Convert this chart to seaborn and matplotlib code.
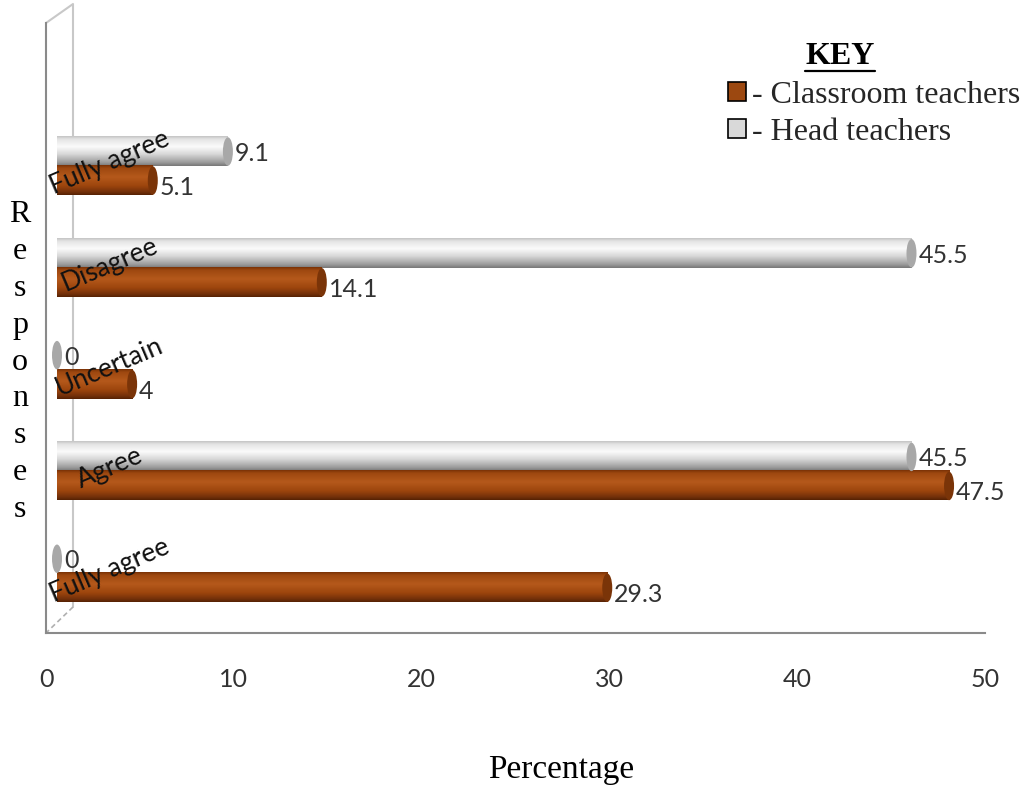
import numpy as np
import pandas as pd
import matplotlib
matplotlib.use("Agg")
import matplotlib.pyplot as plt
import matplotlib.transforms as mtransforms
from matplotlib.patches import Ellipse, Patch
from matplotlib.lines import Line2D
from matplotlib.colors import to_rgb
import seaborn as sns

# Responses, listed from the top of the chart downwards
responses = ["Fully agree", "Disagree", "Uncertain", "Agree", "Fully agree"]
classroom_teachers = [5.1, 14.1, 4, 47.5, 29.3]
head_teachers = [9.1, 45.5, 0, 45.5, 0]
groups = ["Head teachers", "Classroom teachers"]
x_ticks = [0, 10, 20, 30, 40, 50]

rows = []
for i, (h, c) in enumerate(zip(head_teachers, classroom_teachers)):
    rows.append({"slot": i, "group": groups[0], "pct": h})
    rows.append({"slot": i, "group": groups[1], "pct": c})
df = pd.DataFrame(rows)

sns.set_style("white")
plt.rcParams["font.family"] = ["Lato", "DejaVu Sans"]

BROWN = "#9C4810"
GREY = "#D9D9D9"
palette = {groups[0]: GREY, groups[1]: BROWN}

W, H, DPI = 1026, 786, 100
fig = plt.figure(figsize=(W / DPI, H / DPI), dpi=DPI)
# plot frame in pixels: x 46..985, y 23..633 (from top)
L, R, T, B = 46, 985, 23, 633
ax = fig.add_axes([L / W, 1 - B / H, (R - L) / W, (B - T) / H])

sns.barplot(data=df, x="pct", y="slot", hue="group", hue_order=groups,
            orient="y", width=0.57, palette=palette, saturation=1,
            legend=False, ax=ax)

ax.set_xlim(0, 50)
ax.set_ylim(4.587, -1.405)

# depth shift of the cylinders away from the front wall
depth = mtransforms.ScaledTranslation(11 / DPI, 0, fig.dpi_scale_trans)
shift = ax.transData + depth
px_per_unit = (R - L) / 50.0
cap_w = 10 / px_per_unit


def gradient(stops, n=96):
    pos = np.array([s[0] for s in stops])
    cols = np.array([to_rgb(s[1]) for s in stops])
    t = np.linspace(0, 1, n)
    return np.stack([np.interp(t, pos, cols[:, k]) for k in range(3)], axis=1)


grey_grad = gradient([(0, "#C4C4C4"), (0.1, "#E4E4E4"), (0.35, "#FBFBFB"),
                      (0.6, "#D8D8D8"), (0.88, "#9C9C9C"), (1, "#777777")])
brown_grad = gradient([(0, "#7A3206"), (0.1, "#9E4810"), (0.4, "#B5591B"),
                       (0.7, "#9C450D"), (0.9, "#73300A"), (1, "#562204")])

for patch in list(ax.patches):
    x0, y0 = patch.get_x(), patch.get_y()
    w, h = patch.get_width(), patch.get_height()
    is_grey = np.allclose(patch.get_facecolor()[:3], to_rgb(GREY), atol=0.02)
    patch.set_transform(shift)
    patch.set_edgecolor("none")
    grad = grey_grad if is_grey else brown_grad
    if w > 0:
        ax.imshow(grad[:, None, :], extent=(x0, x0 + w, y0 + h, y0),
                  origin="upper", aspect="auto", transform=shift, zorder=2.5,
                  interpolation="bilinear")
    cap = Ellipse((x0 + w, y0 + h / 2), width=cap_w, height=h * 0.98,
                  facecolor="#A8A8A8" if is_grey else "#7A3408",
                  edgecolor="none", transform=shift, zorder=2.6)
    ax.add_patch(cap)
    ax.annotate(f"{w:g}", xy=(x0 + w, y0 + h / 2), xycoords="data",
                xytext=(18, -2 if is_grey else -7), textcoords="offset pixels",
                ha="left", va="center", fontsize=18, color="#333333",
                zorder=5)

ax.set_xlim(0, 50)
ax.set_ylim(4.587, -1.405)

# rotated response labels over the bars
for i, name in enumerate(responses):
    ax.text(3.4, i - 0.03, name, rotation=23, rotation_mode="anchor",
            ha="center", va="center", fontsize=19, color="#111111", zorder=6)

# axes styling
for side in ("top", "right"):
    ax.spines[side].set_visible(False)
for side in ("left", "bottom"):
    ax.spines[side].set_color("#8A8A8A")
    ax.spines[side].set_linewidth(1.5)
ax.set_xticks(x_ticks)
ax.set_xticklabels([str(t) for t in x_ticks])
ax.set_yticks([])
ax.set_xlabel("")
ax.set_ylabel("")
ax.tick_params(axis="x", direction="out", length=6, width=1.5,
               color="#8A8A8A", labelsize=18, labelcolor="#333333", pad=19)


# back wall and floor edge of the 3-D frame
def px(xp, yp):
    return ((xp - L) / (R - L), (B - yp) / (B - T))


wall = [px(46, 23), px(73, 4), px(73, 607)]
ax.add_line(Line2D([p[0] for p in wall], [p[1] for p in wall],
                   transform=ax.transAxes, color="#C8C8C8", lw=1.5,
                   clip_on=False, zorder=1))
floor = [px(73, 607), px(47, 632)]
ax.add_line(Line2D([p[0] for p in floor], [p[1] for p in floor],
                   transform=ax.transAxes, color="#B0B0B0", lw=1.2,
                   ls=(0, (3, 2)), clip_on=False, zorder=1))

serif = ["Liberation Serif", "DejaVu Serif"]

# axis titles
fig.text(561 / W, 1 - 770 / H, "Percentage", ha="center", va="center",
         fontsize=24, family=serif, color="black")
fig.text(20 / W, 1 - 362 / H, "\n".join("Responses"), ha="center",
         va="center", fontsize=23, family=serif, linespacing=1.36,
         color="black")

# key
key = fig.text(840 / W, 1 - 57 / H, "KEY", ha="center", va="center",
               fontsize=23, family=serif, weight="bold", color="black")
handles = [Patch(facecolor=BROWN, edgecolor="black", lw=1.2),
           Patch(facecolor=GREY, edgecolor="black", lw=1.2)]
labels = ["- Classroom teachers", "- Head teachers"]
leg = fig.legend(handles, labels, loc="upper left",
                 bbox_to_anchor=(728 / W, 1 - 81 / H), frameon=False,
                 prop={"family": serif, "size": 23}, handlelength=0.55,
                 handleheight=0.55, handletextpad=0.2, labelspacing=0.24,
                 borderpad=0, borderaxespad=0)

fig.canvas.draw()
bb = key.get_window_extent()
fig.add_artist(Line2D([bb.x0, bb.x1], [bb.y0 + 1, bb.y0 + 1],
                      transform=None, color="black", lw=1.6))

fig.savefig("out.png", dpi=DPI, facecolor="white")
